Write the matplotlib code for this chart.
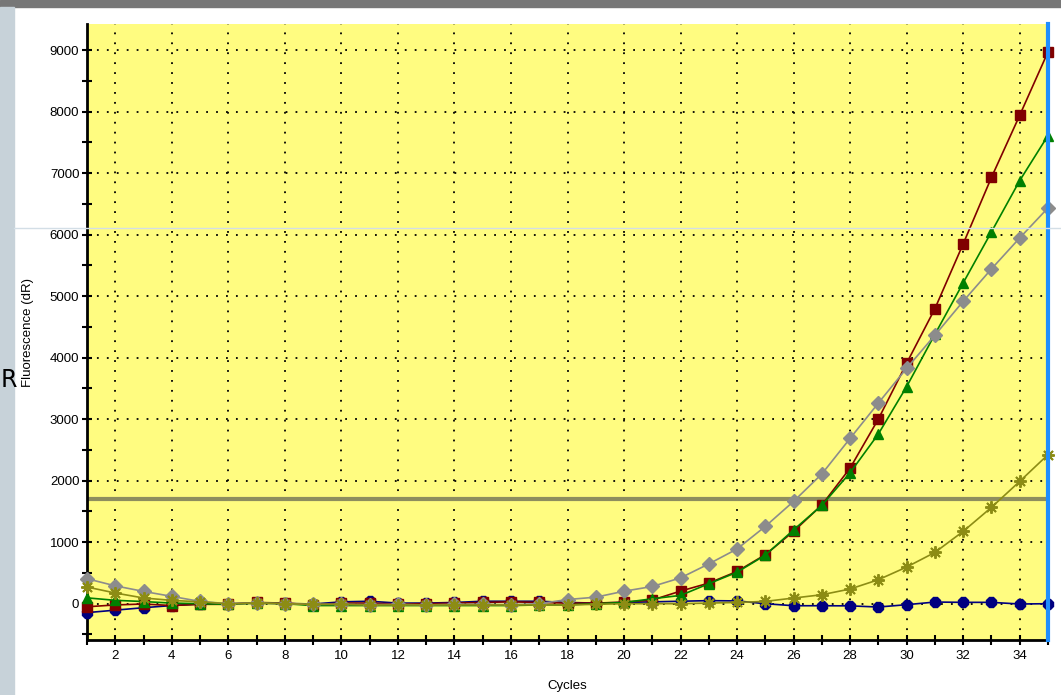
import matplotlib
matplotlib.use('Agg')
import matplotlib.pyplot as plt
from matplotlib.lines import Line2D
from matplotlib.patches import Rectangle
from matplotlib.ticker import MultipleLocator

plt.rcParams['font.family'] = ['Liberation Sans', 'DejaVu Sans']

#------------------------------------------------------------------------------#
# amplification data, cycles 1..35
cycles = list(range(1, 36))

red_sq = [-50, -20, -5, -30, -10, -10, 20, 10, -20, 10, 10, -5, 0, 10, 20, 30, 20,
          10, 10, 25, 60, 205, 335, 525, 797, 1176, 1605, 2206, 3003, 3910, 4797,
          5850, 6930, 7940, 8970]
green_tri = [95, 55, 35, 10, 0, -10, 10, 0, -30, -30, -30, -30, -30, -30, -30, -30,
             -20, -20, 0, 20, 80, 135, 325, 512, 790, 1200, 1600, 2130, 2760, 3530,
             4380, 5215, 6044, 6878, 7610]
gray_dia = [406, 290, 200, 119, 37, 0, 10, 0, -10, -10, -15, -10, -20, -10, -10, -15,
            0, 68, 106, 203, 280, 420, 647, 890, 1257, 1664, 2110, 2688, 3263, 3827,
            4365, 4916, 5442, 5946, 6434]
olive_star = [271, 174, 93, 54, 30, 0, 10, 0, -10, -10, -20, -20, -20, -20, -20, -20,
              -20, -20, -10, 0, 0, 0, 10, 20, 38, 92, 146, 239, 390, 596, 834, 1176,
              1566, 1989, 2423]
navy_circ = [-145, -105, -65, -30, -5, 0, 10, 5, -5, 30, 40, 10, 10, 20, 40, 40, 40,
             20, 10, 20, 30, 40, 50, 45, 0, -33, -33, -35, -54, -16, 27, 22, 22, -5, 0]

threshold = 1700
x_ticks = list(range(2, 35, 2))
y_ticks = list(range(0, 9001, 1000))
#------------------------------------------------------------------------------#

fig = plt.figure(figsize=(10.61, 6.95), dpi=100)
fig.patch.set_facecolor('white')

# screenshot chrome: grey bar on top, blue-grey strip on the left
fig.add_artist(Rectangle((0, 1 - 7/695), 1, 7/695, transform=fig.transFigure,
                         color='#777777', zorder=0))
fig.add_artist(Rectangle((0, 0), 14/1061, 1 - 7/695, transform=fig.transFigure,
                         color='#C7D2D9', zorder=0))
fig.add_artist(Line2D([14/1061, 1], [1 - 228/695, 1 - 228/695], transform=fig.transFigure,
                      color='#D3DEE6', lw=1, zorder=5))
fig.text(0.001, 1 - 380/695, 'R', fontsize=17, va='center', ha='left', color='black',
         family=['DejaVu Sans'])

ax = fig.add_axes([87/1061, 1 - 640/695, (1048 - 87)/1061, (640 - 24)/695])
ax.set_facecolor('#FFFC80')

ax.plot(cycles, navy_circ, color='#000080', lw=1.2, marker='8', ms=8.5, clip_on=False, zorder=3)
ax.plot(cycles, red_sq, color='#800000', lw=1.2, marker='s', ms=7.5, clip_on=False, zorder=4)
ax.plot(cycles, green_tri, color='#008000', lw=1.2, marker='^', ms=7.5, clip_on=False, zorder=5)
ax.plot(cycles, gray_dia, color='#8C8C8C', lw=1.2, marker='D', ms=7.2, clip_on=False, zorder=6)
ax.plot(cycles, olive_star, color='#8C8C14', lw=1.2, marker=(8, 2, 0), ms=9, mew=1.4,
        clip_on=False, zorder=7)

ax.axhline(threshold, color='#8E8E5E', lw=3, zorder=2)
ax.axvline(35, color='#1E8EFF', lw=3, zorder=8, clip_on=False)

ax.set_xlim(1, 35)
ax.set_ylim(-590, 9423)
ax.set_xticks(x_ticks)
ax.xaxis.set_minor_locator(MultipleLocator(1))
ax.set_yticks(y_ticks)
ax.yaxis.set_minor_locator(MultipleLocator(500))
ax.tick_params(which='both', direction='inout', length=7, width=1.5, labelsize=9.5)
ax.tick_params(axis='y', pad=2)
ax.tick_params(axis='x', pad=4)

ax.grid(True, which='major', color='black', linestyle=(0, (1, 4.5)), lw=1.3)

for s in ['top', 'right']:
    ax.spines[s].set_visible(False)
for s in ['left', 'bottom']:
    ax.spines[s].set_linewidth(2)

ax.set_xlabel('Cycles', fontsize=9.5, labelpad=13)
ax.set_ylabel('Fluorescence (dR)', fontsize=9.5, labelpad=11)

plt.savefig('out.png', dpi=100)
